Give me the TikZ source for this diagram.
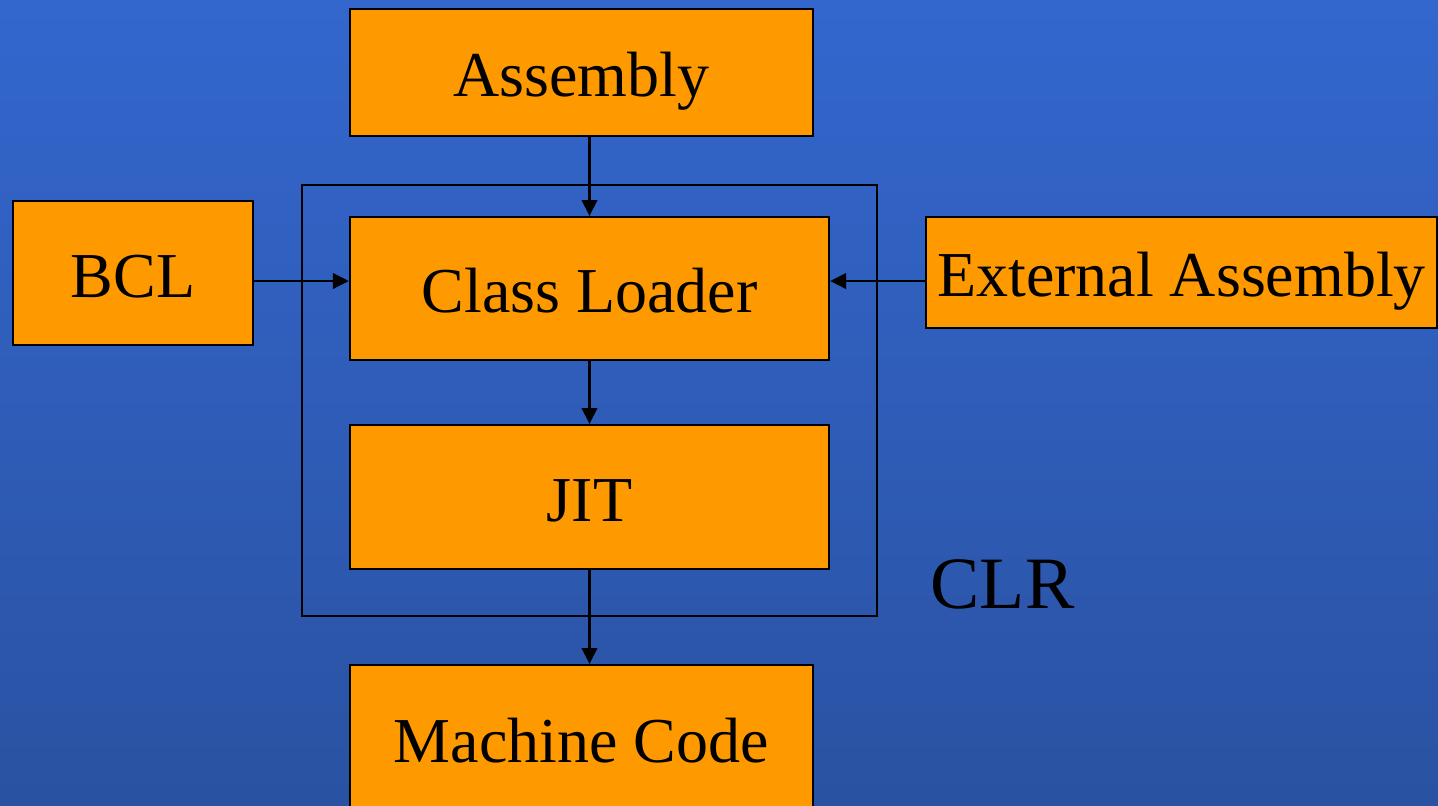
\documentclass[tikz,border=0pt]{standalone}
\usepackage{fontspec}
\setmainfont{Liberation Serif}
\usetikzlibrary{arrows.meta}
\definecolor{bgtop}{RGB}{51,103,206}
\definecolor{bgbot}{RGB}{42,82,162}
\definecolor{boxfill}{RGB}{255,153,0}
\begin{document}
\begin{tikzpicture}[x=0.01cm,y=-0.01cm,
  blk/.style={draw=black,fill=boxfill,line width=0.6pt,inner sep=0pt,
    text height=13.65pt,text depth=0pt,
    font=\fontsize{18.2pt}{22pt}\selectfont},
  conn/.style={draw=black,line width=0.6pt,-{Triangle[length=4.5pt,width=4.4pt]}}]
\useasboundingbox (0,0) rectangle (1438,805);
\shade[top color=bgtop,bottom color=bgbot] (0,0) rectangle (1438,805);
% CLR frame
\draw[line width=0.6pt] (302,185) rectangle (877,616);
\node[font=\fontsize{21pt}{25pt}\selectfont,anchor=base west,inner sep=0pt] (clr) at (930,608) {CLR};
% boxes
\node[blk,minimum width=4.63cm,minimum height=1.27cm] (asm) at (581.5,72.5) {Assembly};
\node[blk,minimum width=4.79cm,minimum height=1.43cm] (cl) at (589.5,288.5) {Class Loader};
\node[blk,minimum width=2.40cm,minimum height=1.44cm] (bcl) at (133,273) {BCL};
\node[blk,minimum width=5.11cm,minimum height=1.11cm] (ext) at (1181.5,272.5) {External Assembly};
\node[blk,minimum width=4.79cm,minimum height=1.44cm] (jit) at (589.5,497) {JIT};
\node[blk,minimum width=4.63cm,minimum height=1.46cm] (mc) at (581.5,738) {Machine Code};
% connectors
\coordinate (ly) at (0,281);
\draw[conn] (cl.north |- asm.south) -- (cl.north);
\draw[conn] (bcl.east |- ly) -- (cl.west |- ly);
\draw[conn] (ext.west |- ly) -- (cl.east |- ly);
\draw[conn] (cl.south) -- (jit.north);
\draw[conn] (jit.south) -- (jit.south |- mc.north);
\end{tikzpicture}
\end{document}
